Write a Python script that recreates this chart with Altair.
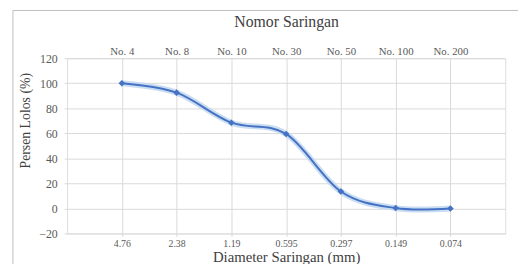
import altair as alt
import pandas as pd

nomor = ["No. 4", "No. 8", "No. 10", "No. 30", "No. 50", "No. 100", "No. 200"]
diameter = ["4.76", "2.38", "1.19", "0.595", "0.297", "0.149", "0.074"]
lolos = [100, 92.5, 68.5, 59.5, 13.5, 0.3, 0]
y_ticks = [-20, 0, 20, 40, 60, 80, 100, 120]

df = pd.DataFrame({"nomor": nomor, "diameter": diameter, "lolos": lolos})

FONT = "'Liberation Serif', 'DejaVu Serif', serif"
BLUE = "#4472C4"
GRID = "#d9d9d9"

yscale = alt.Scale(domain=[-20, 120], nice=False, zero=False)
yaxis = alt.Axis(
    values=y_ticks, title="Persen Lolos (%)", titleFont=FONT, titleFontSize=14,
    titleFontWeight="normal", titleColor="#404040", titleX=-42, titleY=63,
    titleAlign="center", titleBaseline="middle", titleAngle=270,
    labelFont=FONT, labelFontSize=12, labelColor="#595959", labelPadding=7,
    tickSize=3, tickColor=GRID, domain=False, grid=True, gridColor=GRID,
)
xscale = alt.Scale(type="point", padding=1)
bottom_axis = alt.Axis(
    orient="bottom", title="Diameter Saringan (mm)", titleFont=FONT, titleFontSize=15,
    titleFontWeight="normal", titleColor="#404040", titleX=222.5, titleY=23.5,
    titleAlign="center", titleBaseline="middle",
    labelFont=FONT, labelFontSize=10, labelColor="#595959", labelAngle=0,
    labelPadding=2, tickSize=3, tickColor=GRID, domain=False, grid=True, gridColor=GRID,
)
top_axis = alt.Axis(
    orient="top", title="Nomor Saringan", titleFont=FONT, titleFontSize=16,
    titleFontWeight="normal", titleColor="#404040", titleX=222.5, titleY=-37,
    titleAlign="center", titleBaseline="middle",
    labelFont=FONT, labelFontSize=11, labelColor="#595959", labelAngle=0,
    labelPadding=2, ticks=False, domain=False, grid=False,
)

base = alt.Chart(df)

glow = base.mark_line(interpolate="cardinal", color="#c5d9f1", strokeWidth=6, opacity=0.9).encode(
    x=alt.X("diameter:N", sort=None, scale=xscale, axis=bottom_axis),
    y=alt.Y("lolos:Q", scale=yscale, axis=yaxis),
)
line = base.mark_line(
    interpolate="cardinal", color=BLUE, strokeWidth=2,
    point=alt.OverlayMarkDef(shape="diamond", size=45, filled=True, color=BLUE),
).encode(
    x=alt.X("diameter:N", sort=None, scale=xscale, axis=None),
    y=alt.Y("lolos:Q", scale=yscale, axis=yaxis),
)
top = base.mark_point(opacity=0).encode(
    x=alt.X("nomor:N", sort=None, scale=xscale, axis=top_axis),
    y=alt.Y("lolos:Q", scale=yscale, axis=yaxis),
)

frame = alt.Chart(pd.DataFrame({"f": [0]})).mark_rect(
    fill=None, stroke="#bfbfbf", strokeWidth=1
).encode(
    x=alt.value(-55), x2=alt.value(470), y=alt.value(-48.5), y2=alt.value(300)
)

chart = alt.layer(frame, glow, line, top).resolve_scale(x="independent").properties(
    width=445, height=178,
    autosize=alt.AutoSizeParams(type="none"),
    padding={"left": 60, "top": 49, "right": 13, "bottom": 29},
    background="white",
).configure_view(stroke=GRID, strokeWidth=1).configure(font=FONT)

chart.save("out.html", embed_options={"renderer": "svg", "actions": False})
